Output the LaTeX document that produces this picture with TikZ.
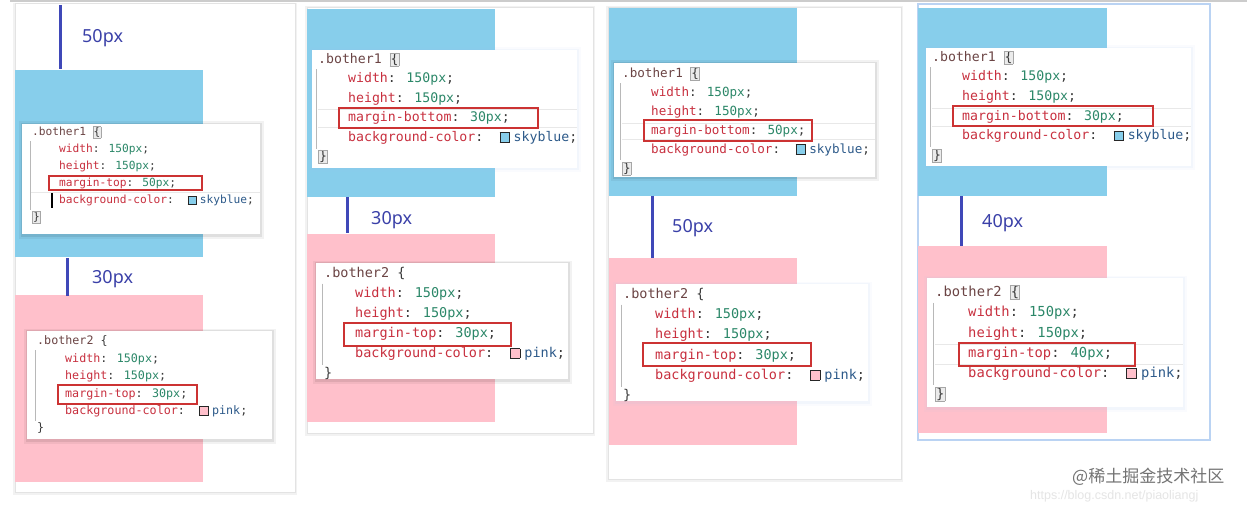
\documentclass[tikz,border=0pt]{standalone}
\usepackage{fontspec}
\setmainfont{Noto Sans}
\newfontfamily\cmono{DejaVu Sans Mono}
\newfontfamily\cjk{Noto Sans CJK SC}
\newfontfamily\labf{Noto Sans}
\newfontfamily\urlf{Liberation Sans}
\definecolor{skyblue}{HTML}{87CEEB}
\definecolor{pink}{HTML}{FFC0CB}
\definecolor{cbar}{HTML}{3F48B8}
\definecolor{clab}{HTML}{3A40A8}
\definecolor{cprop}{HTML}{C8303F}
\definecolor{cval}{HTML}{2B8768}
\definecolor{ccol}{HTML}{2D5A8A}
\definecolor{csel}{HTML}{6B4444}
\definecolor{cpunct}{HTML}{3A3A3A}
\definecolor{cred}{HTML}{CC3333}
\definecolor{cglow}{HTML}{9DC0EE}
\newcommand\pr[1]{\textcolor{cprop}{#1}}
\newcommand\vl[1]{\textcolor{cval}{#1}}
\newcommand\sw[1]{\hspace{0.43em}{\setlength\fboxsep{0pt}\setlength\fboxrule{0.75pt}\raisebox{-0.03em}{\fcolorbox{black!85}{#1}{\rule{0pt}{0.66em}\rule{0.66em}{0pt}}}}\hspace{0.3em}}
\newcommand\hbr[1]{{\setlength\fboxsep{0.3pt}\setlength\fboxrule{0.5pt}\fcolorbox{black!35}{black!8}{#1}}}
\newcommand\nbr[1]{#1}
\let\bxhl\nbr
\def\bxcol{skyblue}
\newcommand\codebox[9]{%
  \node[cl,font=\cmono\fontsize{#6}{#6}\selectfont] (#1-0) at (#2,{#4+0.33*#6}) {\textcolor{csel}{#7} \bxhl{\{}};
  \node[cl,font=\cmono\fontsize{#6}{#6}\selectfont] (#1-1) at (#3,{#4+#5+0.33*#6}) {\pr{width}: \vl{150px};};
  \node[cl,font=\cmono\fontsize{#6}{#6}\selectfont] (#1-2) at (#3,{#4+2*#5+0.33*#6}) {\pr{height}: \vl{150px};};
  \node[cl,font=\cmono\fontsize{#6}{#6}\selectfont] (#1-3) at (#3,{#4+3*#5+0.33*#6}) {\pr{#8}: \vl{#9};};
  \node[cl,font=\cmono\fontsize{#6}{#6}\selectfont] (#1-4) at (#3,{#4+4*#5+0.33*#6}) {\pr{background-color}: \sw{\bxcol}\textcolor{ccol}{\bxcol};};
  \node[cl,font=\cmono\fontsize{#6}{#6}\selectfont] (#1-5) at (#2,{#4+5*#5+0.33*#6}) {\bxhl{\}}};
  \draw[guide] ({#2-1.8},{#4+0.53*#5}) -- ({#2-1.8},{#4+4.6*#5});
}
\newcommand\shadowbox[5]{%
  \fill[#1,opacity=0.05] ({#2-3},{#3-2.5}) rectangle ({#4+3.5},{#5+4.5});
  \fill[#1,opacity=0.08] ({#2-1.5},{#3-1.2}) rectangle ({#4+1.8},{#5+2.5});
  \fill[white] (#2,#3) rectangle (#4,#5);
}
\tikzset{
  cl/.style={anchor=base west,inner sep=0pt,text=cpunct},
  guide/.style={draw=black!28,line width=0.8pt},
  sep/.style={draw=black!9,line width=0.8pt},
  redbox/.style={draw=cred,line width=1.4pt},
  bar/.style={draw=cbar,line width=3pt},
  lab/.style={anchor=base west,inner sep=0pt,text=clab,font=\labf\fontsize{18}{18}\selectfont},
  card/.style={fill=white,draw=black!11,line width=0.8pt},
}
\begin{document}
\begin{tikzpicture}[x=1pt,y=-1pt]
\useasboundingbox (0,0) rectangle (1247,505);
\fill[white] (0,0) rectangle (1247,505);
\draw[black!20,line width=1.5pt] (10,1) -- (1247,1);
% cards
\fill[black!5] (13,3) rectangle (297,495);
\path[card] (15,3) rectangle (295,492);
\fill[black!5] (305,6) rectangle (595,436);
\path[card] (307,7) rectangle (593,433);
\fill[black!5] (606,6) rectangle (903,482);
\path[card] (608,7) rectangle (901,479);
\path[card,draw=cglow!70,line width=1.3pt] (918,4) rectangle (1210,440);
% colour blocks
\fill[skyblue] (15,70) rectangle (203,257);
\fill[pink] (15,295) rectangle (203,482);
\fill[skyblue] (307,9) rectangle (495,197);
\fill[pink] (307,234) rectangle (495,422);
\fill[skyblue] (609,8) rectangle (797,196);
\fill[pink] (609,258) rectangle (797,445);
\fill[skyblue] (918,8) rectangle (1107,196);
\fill[pink] (918,246) rectangle (1107,433);
% measurement bars and labels
\draw[bar] (60,5) -- (60,69);
\node[lab] (l1) at (82,43) {50px};
\draw[bar] (67.5,258) -- (67.5,296);
\node[lab] (l2) at (92,283) {30px};
\draw[bar] (347,197) -- (347,233);
\node[lab] (l3) at (371,225) {30px};
\draw[bar] (652,196) -- (652,258);
\node[lab] (l4) at (672,233) {50px};
\draw[bar] (961,196) -- (961,246);
\node[lab] (l5) at (982,227) {40px};
% ---- code box 1
\shadowbox{black}{22}{124}{260}{234}
\draw[sep] (30,192) -- (260,192);
\begin{scope}\clip (22,124) rectangle (260,234);
\let\bxhl\hbr\def\bxcol{skyblue}
\codebox{a}{32}{59}{132}{17}{11.2}{.bother1}{margin-top}{50px}
\end{scope}
\draw[black,line width=1.2pt] (52,193) -- (52,208);
\draw[redbox] (49,176) rectangle (202,190);
% ---- code box 2
\shadowbox{black}{27}{331}{272}{439}
\begin{scope}\clip (27,331) rectangle (272,439);
\let\bxhl\nbr\def\bxcol{pink}
\codebox{b}{37}{65}{341}{17.4}{11.7}{.bother2}{margin-top}{30px}
\end{scope}
\draw[redbox] (58,385) rectangle (197,404);
% ---- code box 3
\shadowbox{cglow}{312}{50}{577}{168}
\draw[sep] (318,109) -- (577,109);
\draw[sep] (318,127) -- (577,127);
\begin{scope}\clip (312,50) rectangle (577,168);
\let\bxhl\hbr\def\bxcol{skyblue}
\codebox{c}{318}{348}{59}{19.5}{13.2}{.bother1}{margin-bottom}{30px}
\end{scope}
\draw[redbox] (339,108) rectangle (538,128);
% ---- code box 4
\shadowbox{black}{316}{263}{568}{379}
\begin{scope}\clip (316,263) rectangle (568,379);
\let\bxhl\nbr\def\bxcol{pink}
\codebox{d}{324}{355}{273}{20}{13.5}{.bother2}{margin-top}{30px}
\end{scope}
\draw[redbox] (344,323) rectangle (511,346);
% ---- code box 5
\shadowbox{black}{614}{63}{875}{177}
\draw[sep] (622,123) -- (875,123);
\draw[sep] (622,139) -- (875,139);
\begin{scope}\clip (614,63) rectangle (875,177);
\let\bxhl\hbr\def\bxcol{skyblue}
\codebox{e}{622}{651}{73}{19}{12.6}{.bother1}{margin-bottom}{50px}
\end{scope}
\draw[redbox] (644,120) rectangle (812,141);
% ---- code box 6
\shadowbox{cglow}{616}{284}{868}{401}
\begin{scope}\clip (616,284) rectangle (868,401);
\let\bxhl\nbr\def\bxcol{pink}
\codebox{f}{623}{655}{294}{20.2}{13.5}{.bother2}{margin-top}{30px}
\end{scope}
\draw[redbox] (643,343) rectangle (811,366);
% ---- code box 7
\shadowbox{cglow}{926}{48}{1191}{166}
\draw[sep] (932,108) -- (1191,108);
\draw[sep] (932,126) -- (1191,126);
\begin{scope}\clip (926,48) rectangle (1191,166);
\let\bxhl\hbr\def\bxcol{skyblue}
\codebox{g}{932}{962}{57}{19.6}{13.2}{.bother1}{margin-bottom}{30px}
\end{scope}
\draw[redbox] (953,106) rectangle (1153,126);
% ---- code box 8
\shadowbox{cglow}{927}{278}{1183}{407}
\draw[sep] (935,344) -- (1183,344);
\draw[sep] (935,364) -- (1183,364);
\begin{scope}\clip (927,278) rectangle (1183,407);
\let\bxhl\hbr\def\bxcol{pink}
\codebox{h}{935}{968}{292}{20.3}{13.8}{.bother2}{margin-top}{40px}
\end{scope}
\draw[redbox] (959,343) rectangle (1135,366);
% watermark
\node[anchor=west,inner sep=0pt,text=black!10,font=\urlf\fontsize{12.5}{12.5}\selectfont] (url) at (1030,496) {https://blog.csdn.net/piaoliangj};
\node[anchor=west,inner sep=0pt,text=black!55,font=\cjk\fontsize{17}{17}\selectfont] (wm) at (1072,477) {@稀土掘金技术社区};
\end{tikzpicture}
\end{document}
